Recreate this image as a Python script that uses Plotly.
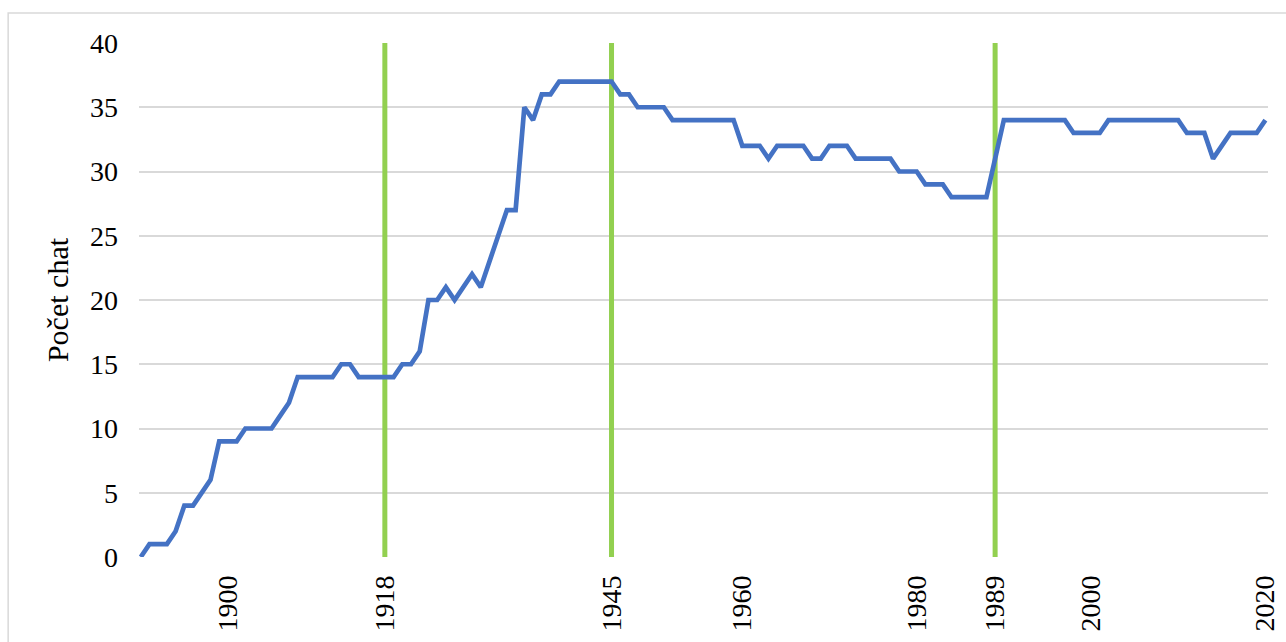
import plotly.graph_objects as go

# Years with a recorded count (1944 has no entry in the series)
years = list(range(1890, 1944)) + list(range(1945, 2021))

# Number of chalets per year
chaty = [
    0, 1, 1, 1, 2, 4, 4, 5, 6, 9,
    9, 9, 10, 10, 10, 10, 11, 12, 14, 14,
    14, 14, 14, 15, 15, 14, 14, 14, 14, 14,
    15, 15, 16, 20, 20, 21, 20, 21, 22, 21,
    23, 25, 27, 27, 35, 34, 36, 36, 37, 37,
    37, 37, 37, 37, 37, 36, 36, 35, 35, 35,
    35, 34, 34, 34, 34, 34, 34, 34, 34, 32,
    32, 32, 31, 32, 32, 32, 32, 31, 31, 32,
    32, 32, 31, 31, 31, 31, 31, 30, 30, 30,
    29, 29, 29, 28, 28, 28, 28, 28, 31, 34,
    34, 34, 34, 34, 34, 34, 34, 33, 33, 33,
    33, 34, 34, 34, 34, 34, 34, 34, 34, 34,
    33, 33, 33, 31, 32, 33, 33, 33, 33, 34,
]

# Labelled years on the horizontal axis
tick_years = [1900, 1918, 1945, 1960, 1980, 1989, 2000, 2020]

# Milestone years marked with vertical lines
milnik_years = [1918, 1945, 1989]

y_max = 40
y_step = 5

x_cat = [str(y) for y in years]

FONT = "Liberation Serif, Times New Roman, serif"
BLUE = "#4472C4"
GREEN = "#92D050"
GRID = "#d9d9d9"

fig = go.Figure()

for m in milnik_years:
    fig.add_trace(go.Scatter(
        x=[str(m), str(m)], y=[0, y_max],
        mode="lines",
        line=dict(color=GREEN, width=5),
        hoverinfo="skip",
        showlegend=False,
    ))

fig.add_trace(go.Scatter(
    x=x_cat, y=chaty,
    mode="lines",
    line=dict(color=BLUE, width=4.7),
    showlegend=False,
))

# Outer chart border
fig.add_shape(
    type="rect", xref="paper", yref="paper",
    x0=-0.1159, x1=1.03, y0=-0.2, y1=1.0584,
    line=dict(color=GRID, width=1.5),
    fillcolor="rgba(0,0,0,0)",
    layer="below",
)

fig.update_layout(
    width=1286, height=642,
    margin=dict(l=139, r=18, t=43, b=85, autoexpand=False),
    paper_bgcolor="white",
    plot_bgcolor="white",
    font=dict(family=FONT, size=28, color="black"),
    xaxis=dict(
        type="category",
        categoryorder="array",
        categoryarray=x_cat,
        range=[-0.2, len(x_cat) - 1 + 0.3],
        automargin=False,
        tickmode="array",
        tickvals=[str(t) for t in tick_years],
        ticktext=[str(t) for t in tick_years],
        tickangle=-90,
        showgrid=False,
        zeroline=False,
        showline=False,
        ticks="",
        ticklabelstandoff=12,
        tickfont=dict(family=FONT, size=28, color="black"),
    ),
    yaxis=dict(
        range=[0, y_max],
        dtick=y_step,
        tick0=0,
        automargin=False,
        showgrid=True,
        gridcolor=GRID,
        gridwidth=1.5,
        zeroline=False,
        showline=False,
        ticks="",
        ticklabelstandoff=20,
        tickfont=dict(family=FONT, size=28, color="black"),
        title=dict(text="Počet chat", font=dict(family=FONT, size=30, color="black"), standoff=12),
    ),
)

fig.write_html("out.html")
